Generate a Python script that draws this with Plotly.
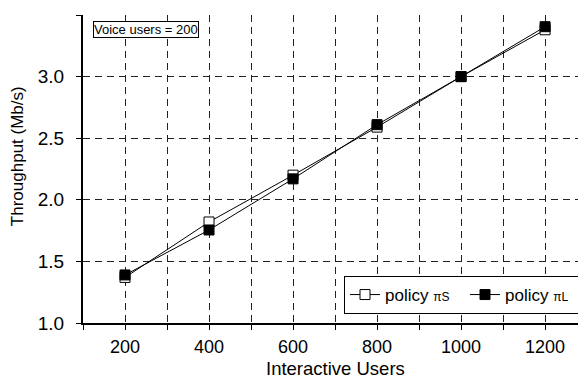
import plotly.graph_objects as go

users = [200, 400, 600, 800, 1000, 1200]
policy_s = [1.37, 1.82, 2.20, 2.59, 3.00, 3.38]
policy_l = [1.39, 1.755, 2.17, 2.61, 3.00, 3.405]
x_tickvals = [200, 400, 600, 800, 1000, 1200]
y_tickvals = [1.0, 1.5, 2.0, 2.5, 3.0, 3.5]

FONT = "Liberation Sans, Arial, sans-serif"

fig = go.Figure()
fig.add_trace(go.Scatter(
    x=users, y=policy_s, mode="lines+markers",
    name='policy <span style="font-size:12px">πS</span>',
    line=dict(color="black", width=1),
    marker=dict(symbol="square", size=10, color="white", line=dict(color="black", width=1)),
))
fig.add_trace(go.Scatter(
    x=users, y=policy_l, mode="lines+markers",
    name='policy <span style="font-size:12px">πL</span>',
    line=dict(color="black", width=1),
    marker=dict(symbol="square", size=10, color="black", line=dict(color="black", width=1)),
))

grid = dict(showgrid=True, gridcolor="#222", gridwidth=1, griddash="7px,5px")

fig.update_xaxes(
    range=[100, 1295], tickvals=x_tickvals, ticktext=[str(v) for v in x_tickvals],
    minor=dict(dtick=100, tick0=100, ticks="outside", ticklen=5, tickcolor="black",
               showgrid=True, gridcolor="#222", gridwidth=1, griddash="7px,5px"),
    ticks="outside", ticklen=5, tickcolor="black",
    showline=True, linecolor="black", linewidth=2,
    zeroline=False, tickfont=dict(size=18, color="black", family=FONT),
    ticklabelstandoff=1, automargin=False,
    **grid,
)
fig.update_yaxes(
    range=[1.0, 3.5], tickvals=y_tickvals, ticktext=[f"{v:.1f}" for v in y_tickvals],
    ticks="outside", ticklen=5, tickcolor="black",
    showline=True, linecolor="black", linewidth=2,
    zeroline=False, tickfont=dict(size=19, color="black", family=FONT),
    ticklabelstandoff=8, automargin=False,
    **grid,
)

fig.add_annotation(
    text="Interactive Users", xref="paper", yref="paper",
    x=(336 - 83) / 503, y=-(368 - 323) / 308, xanchor="center", yanchor="middle",
    showarrow=False, font=dict(size=18.5, color="black", family=FONT),
)
fig.add_annotation(
    text="Throughput (Mb/s)", xref="paper", yref="paper", textangle=-90,
    x=-(83 - 17) / 503, y=(323 - 156) / 308, xanchor="center", yanchor="middle",
    showarrow=False, font=dict(size=17, color="black", family=FONT),
)
fig.add_annotation(
    text="Voice users = 200", xref="paper", yref="paper",
    x=(93 - 83) / 503, y=(323 - 21) / 308, xanchor="left", yanchor="top",
    showarrow=False, font=dict(size=13, color="black", family=FONT),
    bordercolor="black", borderwidth=1, borderpad=0, bgcolor="white",
)

# The page body has an 8px margin, so the figure is 8px smaller than the window.
fig.update_layout(
    width=578, height=370,
    margin=dict(l=75, r=0, t=7, b=55),
    plot_bgcolor="white", paper_bgcolor="white",
    font=dict(family=FONT, color="black"),
    showlegend=True,
    legend=dict(
        orientation="h", x=(587 - 83) / 503, y=(323 - 314) / 308,
        xanchor="right", yanchor="bottom",
        bordercolor="black", borderwidth=1, bgcolor="white",
        font=dict(size=17, color="black", family=FONT),
        entrywidth=75, entrywidthmode="pixels", tracegroupgap=0,
    ),
)

fig.write_html("out.html")
